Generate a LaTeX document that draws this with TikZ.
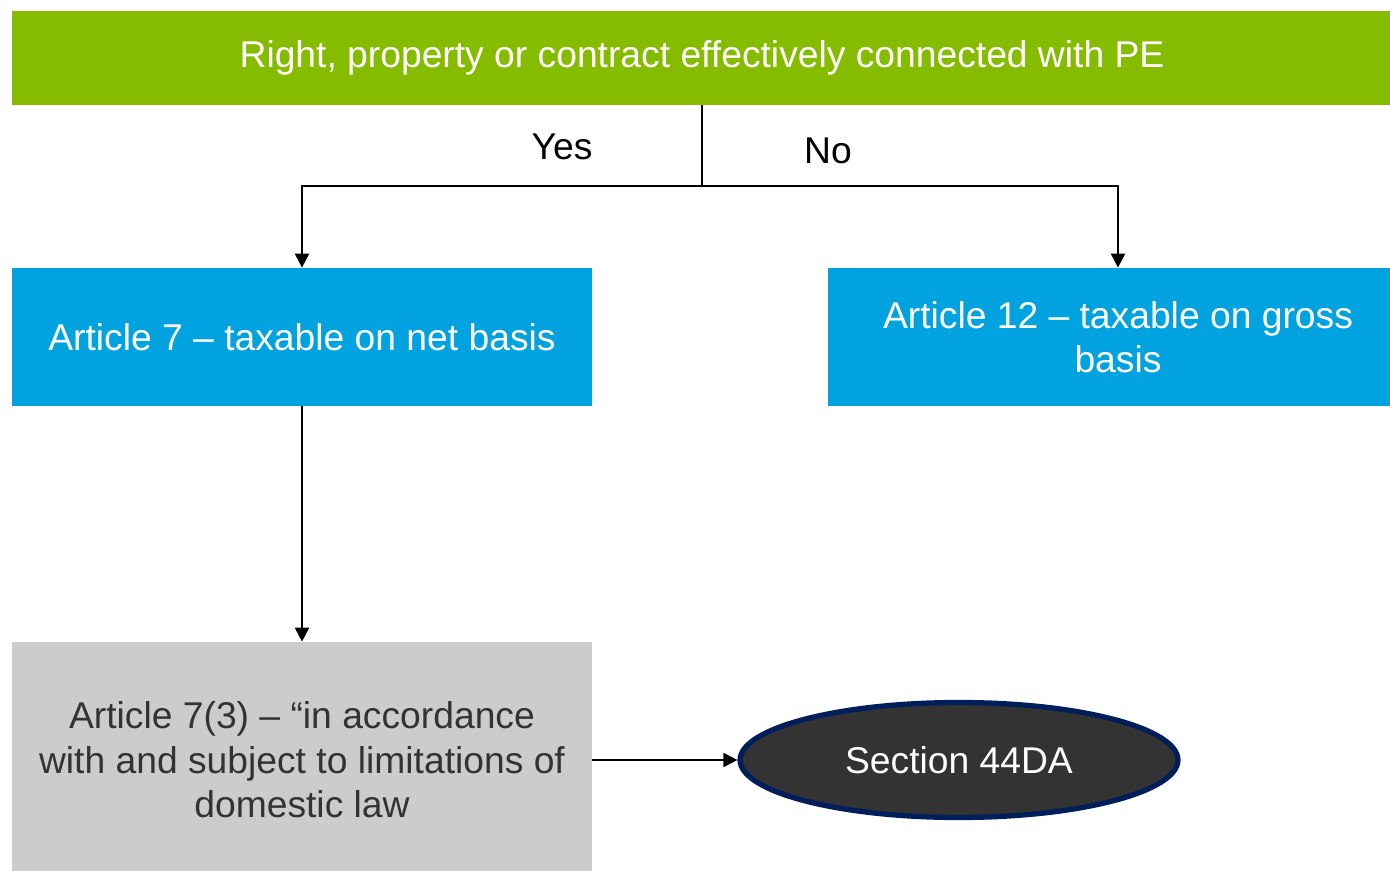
\documentclass[tikz,border=0pt]{standalone}
\usepackage{fontspec}
\setmainfont{Liberation Sans}
\usetikzlibrary{arrows.meta,shapes.geometric}
\definecolor{pegreen}{HTML}{85BC00}
\definecolor{peblue}{HTML}{00A3E0}
\definecolor{pegray}{HTML}{CCCCCC}
\definecolor{petext}{HTML}{333333}
\definecolor{pedark}{HTML}{333333}
\definecolor{penavy}{HTML}{001E5A}
\tikzset{
  box/.style={rectangle, inner sep=0pt, align=center, font=\fontsize{21.2}{25.3}\selectfont},
  conn/.style={line width=1.1pt, black},
  tip/.style={-{Triangle[length=8pt,width=8pt]}},
  lbl/.style={font=\fontsize{21.2}{25}\selectfont, text=black}
}
\begin{document}
\begin{tikzpicture}[x=0.02cm,y=-0.02cm]
\useasboundingbox (0,0) rectangle (1390,871);
\fill[white] (0,0) rectangle (1390,871);
\node[box, fill=pegreen, text=white, minimum width=27.6cm, minimum height=1.88cm] (top) at (702,58) {Right, property or contract effectively connected with PE};
\node[box, fill=peblue, text=white, minimum width=11.6cm, minimum height=2.76cm] (left) at (302,337) {Article 7 -- taxable on net basis};
\node[box, fill=peblue, text=white, minimum width=11.6cm, minimum height=2.76cm] (right) at (1118,337) {Article 12 -- taxable on gross\\basis};
\node[box, fill=pegray, text=petext, minimum width=11.6cm, minimum height=4.72cm] (gray) at (302,760) {Article 7(3) -- “in accordance\\with and subject to limitations of\\domestic law};
\node[ellipse, fill=pedark, draw=penavy, line width=3pt, text=white, minimum width=8.76cm, minimum height=2.3cm, inner sep=0pt, font=\fontsize{21.2}{25}\selectfont] (sec) at (959,760) {Section 44DA};
\coordinate (split) at (702,186);
\draw[conn] (top.south) -- (split);
\draw[conn, tip] (split) -| (left.north);
\draw[conn, tip] (split) -| (right.north);
\draw[conn, tip] (left.south) -- (gray.north);
\draw[conn, tip] (gray.east) -- (sec.west);
\node[lbl] (yes) at (562,147) {Yes};
\node[lbl] (no) at (828,151) {No};
\end{tikzpicture}
\end{document}
